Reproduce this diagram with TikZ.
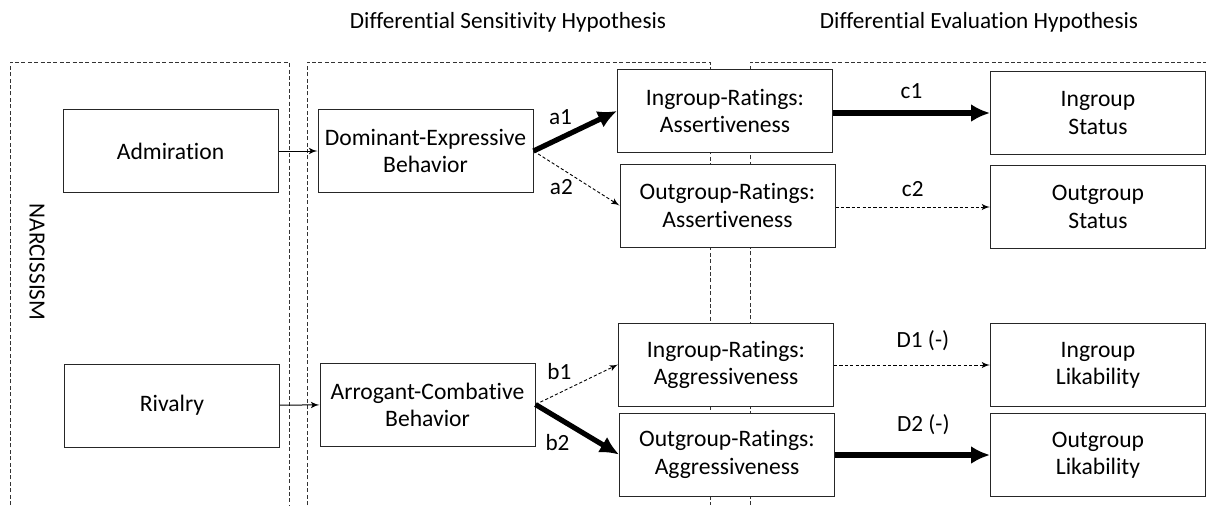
\documentclass[tikz,border=0pt]{standalone}
\usepackage{fontspec}
\setmainfont[Ligatures=NoCommon]{Carlito}
\usetikzlibrary{arrows,arrows.meta,positioning}
\begin{document}
\begin{tikzpicture}[>=latex', x=0.5pt, y=-0.5pt]
      \tikzset{
	  var/.style={rectangle, draw=black!85, fill=white, line width=0.5pt, inner sep=0pt, minimum width=107.5pt, minimum height=41.5pt, align=center, font=\fontsize{11.8}{13.6}\selectfont},
	  frame/.style={draw=black!80, line width=0.45pt, dash pattern=on 2pt off 1.2pt},
	  thin path/.style={->, line width=0.5pt},
	  weak path/.style={->, line width=0.45pt, dash pattern=on 1.6pt off 1.1pt},
	  strong path/.style={-{Latex[length=9.5pt,width=9pt]}, line width=2.6pt},
	  lbl/.style={font=\fontsize{11.6}{13.6}\selectfont, inner sep=1pt},
      }
      \useasboundingbox (0,0) rectangle (1206,505);

      % dashed frames
      \draw[frame] (10,505) |- (289,62) -- (289,505);
      \draw[frame] (307,505) |- (710,62) -- (710,505);
      \draw[frame] (750,505) |- (1206,62);

      \node (hs) at (508,22) [lbl] {Differential Sensitivity Hypothesis};
      \node (he) at (979,22) [lbl] {Differential Evaluation Hypothesis};
      \node (narc) at (37,262) [lbl, rotate=-90] {NARCISSISM};

      % variables
      \node (adm) at (170.5,151) [var] {Admiration};
      \node (riv) at (172,405.5) [var] {Rivalry};
      \node (dom) at (425.5,151) [var] {Dominant-Expressive\\Behavior};
      \node (arr) at (427.5,404.5) [var] {Arrogant-Combative\\Behavior};

      \node (ina) at (725,111) [var] {Ingroup-Ratings:\\Assertiveness};
      \node (outa) at (727.5,205.5) [var] {Outgroup-Ratings:\\Assertiveness};
      \node (ing) at (726,364.5) [var] {Ingroup-Ratings:\\Aggressiveness};
      \node (outg) at (727,454.5) [var] {Outgroup-Ratings:\\Aggressiveness};

      \node (ins) at (1098,113) [var] {Ingroup\\Status};
      \node (outs) at (1098,207) [var] {Outgroup\\Status};
      \node (inl) at (1098,365) [var] {Ingroup\\Likability};
      \node (outl) at (1098,455) [var] {Outgroup\\Likability};

      % paths
      \draw[thin path] (adm) -- (dom);
      \draw[thin path] (riv) -- (arr);

      \draw[strong path] (dom.east) -- (ina.west) node[lbl, pos=0.3, above left=5pt and -9pt] {a1};
      \draw[weak path] (dom.east) -- (outa.west) node[lbl, pos=0.3, below left=5pt and -8pt] {a2};
      \draw[weak path] (arr.east) -- (ing.west) node[lbl, pos=0.27, above left=6pt and -8pt] {b1};
      \draw[strong path] (arr.east) -- (outg.west) node[lbl, pos=0.27, below left=6pt and -8pt] {b2};

      \draw[strong path] (ina.east |- ins) -- (ins.west) node[lbl, midway, above=5pt] {c1};
      \draw[weak path] (outa.east |- outs) -- (outs.west) node[lbl, midway, above=4pt] {c2};
      \draw[weak path] (ing.east |- inl) -- (inl.west) node[lbl, pos=0.57, above=6pt] {D1 (-)};
      \draw[strong path] (outg.east |- outl) -- (outl.west) node[lbl, pos=0.57, above=8pt] {D2 (-)};
\end{tikzpicture}
\end{document}
